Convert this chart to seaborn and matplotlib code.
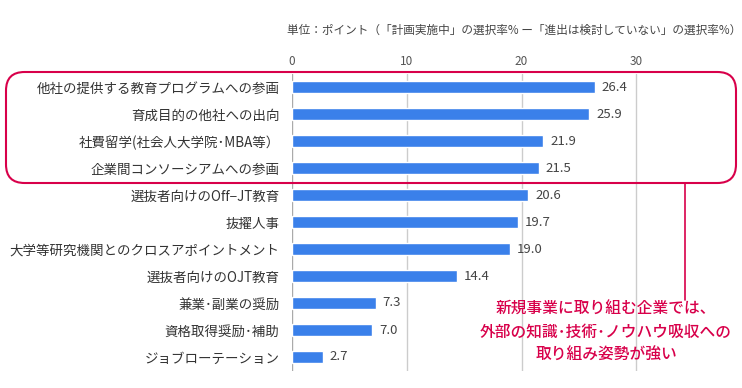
import matplotlib
matplotlib.use("Agg")
import matplotlib.pyplot as plt
import seaborn as sns
import pandas as pd
from matplotlib.patches import FancyBboxPatch
from matplotlib.lines import Line2D

categories = [
    "他社の提供する教育プログラムへの参画",
    "育成目的の他社への出向",
    "社費留学(社会人大学院･MBA等）",
    "企業間コンソーシアムへの参画",
    "選抜者向けのOff−JT教育",
    "抜擢人事",
    "大学等研究機関とのクロスアポイントメント",
    "選抜者向けのOJT教育",
    "兼業･副業の奨励",
    "資格取得奨励･補助",
    "ジョブローテーション",
]
values = [26.4, 25.9, 21.9, 21.5, 20.6, 19.7, 19.0, 14.4, 7.3, 7.0, 2.7]
x_ticks = [0, 10, 20, 30]
unit_text = "単位：ポイント（「計画実施中」の選択率% ー「進出は検討していない」の選択率%）"
note_text = "新規事業に取り組む企業では、\n外部の知識･技術･ノウハウ吸収への\n取り組み姿勢が強い"

sns.set_theme(style="white")
plt.rcParams['font.family'] = ['Noto Sans CJK JP', 'DejaVu Sans']

df = pd.DataFrame({"cat": categories, "val": values})

W, H = 742, 388
fig = plt.figure(figsize=(W / 100, H / 100), dpi=100)
ax = fig.add_axes([292 / W, 17.5 / H, (727 - 292) / W, (314.5 - 17.5) / H])

sns.barplot(data=df, x="val", y="cat", orient="h", color="#3a80ea",
            saturation=1, width=0.45, ax=ax, zorder=3)

ax.set_xlim(0, 37.9)
ax.set_ylim(10.5, -0.5)
ax.set_xlabel("")
ax.set_ylabel("")
for s in ax.spines.values():
    s.set_visible(False)
ax.xaxis.tick_top()
ax.set_xticks(x_ticks)
ax.set_xticklabels([str(t) for t in x_ticks], fontsize=8.5, color="#555555")
ax.tick_params(axis="x", length=0, pad=4)
for t in x_ticks:
    ax.axvline(t, color="#aaaaaa" if t == 0 else "#cccccc", lw=1, zorder=1)
ax.tick_params(axis="y", length=0, pad=9)
for lab in ax.get_yticklabels():
    lab.set_fontsize(9.7)
    lab.set_color("#333333")

for i, v in enumerate(values):
    ax.text(v + 0.6, i, f"{v:.1f}", va="center", ha="left", fontsize=9.5,
            color="#444444", zorder=4)

fig.text(287 / W, 1 - 30 / H, unit_text, fontsize=8.4, color="#444444",
         ha="left", va="center")

red = "#d8004a"
box = FancyBboxPatch((6 / W, (388 - 183) / H), 730 / W, 111 / H,
                     boxstyle="round,pad=0,rounding_size=0.025",
                     transform=fig.transFigure, fill=False, ec=red, lw=1.5,
                     mutation_aspect=W / H, zorder=5)
fig.patches.append(box)
fig.lines.append(Line2D([685 / W, 685 / W], [(388 - 183) / H, (388 - 300) / H],
                        transform=fig.transFigure, color=red, lw=1.2))

fig.text(606 / W, 1 - 332 / H, note_text, fontsize=11.3, color=red,
         ha="center", va="center", linespacing=1.45, fontweight="medium")

fig.savefig("out.png", dpi=100)
